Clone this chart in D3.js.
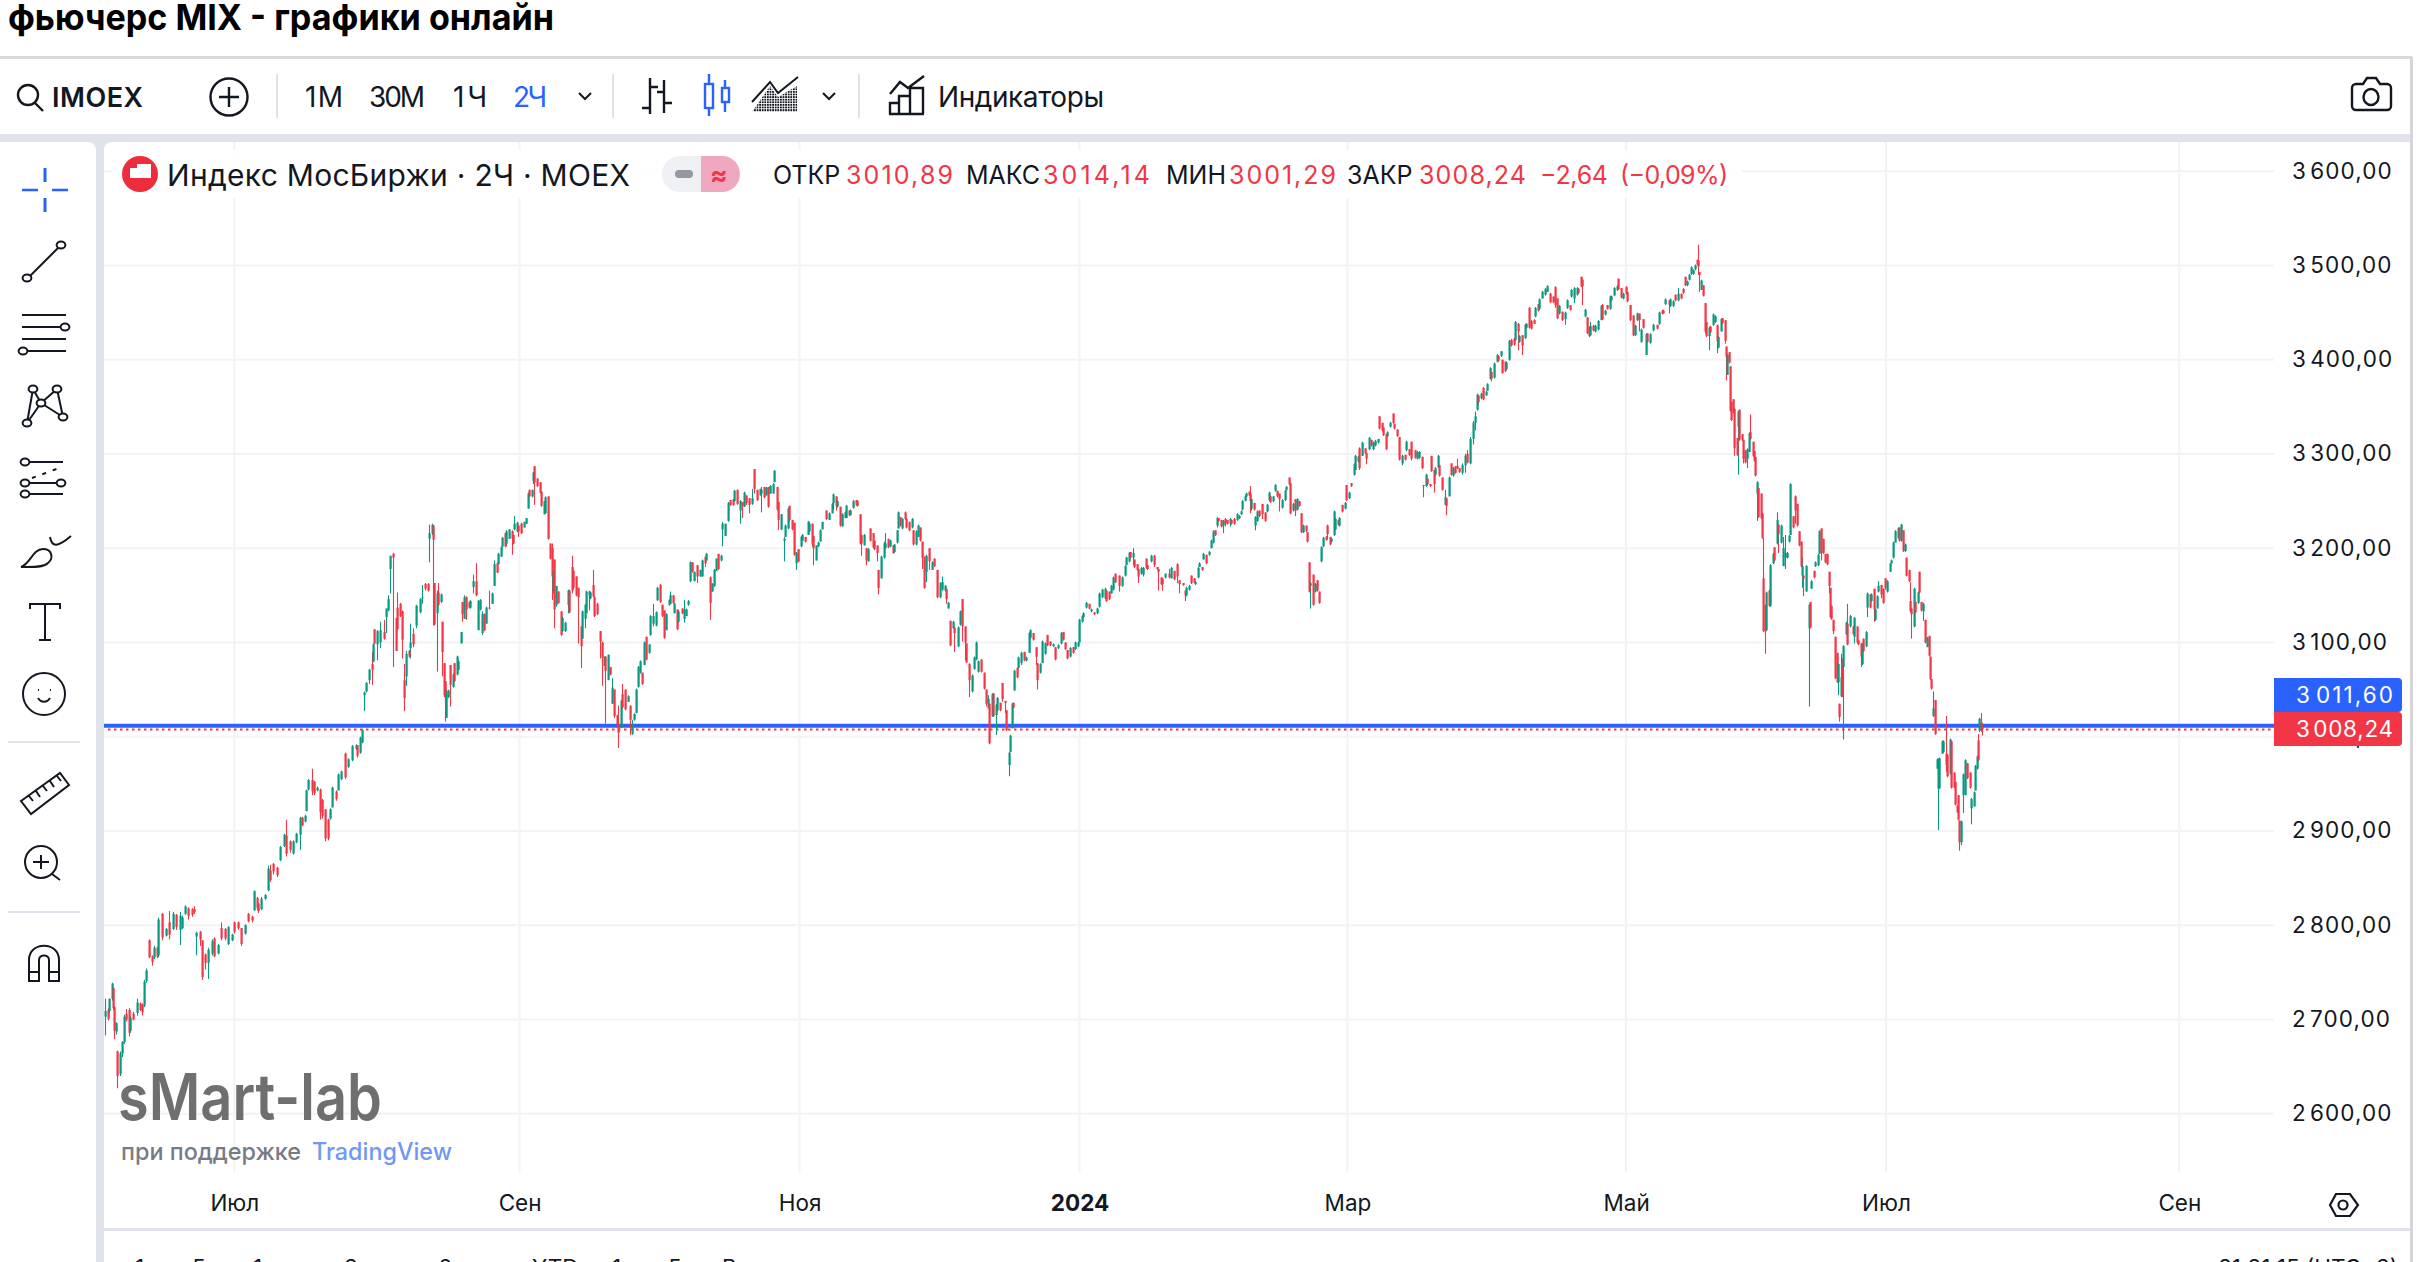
<!DOCTYPE html>
<html><head><meta charset="utf-8">
<script src="https://cdn.jsdelivr.net/npm/d3@7/dist/d3.min.js"></script>
<style>html,body{margin:0;padding:0;background:#fff;overflow:hidden}svg{display:block}text{font-family:Inter,"Noto Sans",sans-serif;fill:#131722}</style>
</head><body><div id="c"></div>
<script>
const bar=[0,2,3,5,6,7,8,9,11,13,14,16,18,19,21,24,26,28,29,31,33,35,37,39,40,43,46,48,51,53,56,58,60,62,65,67,68,71,73,75,77,80,82,85,87,90,92,95,97,100,102,105,107,110,112,114,115,117,120,122,124,126,129,131,134,136,139,141,143,146,148,150,151,152,155,157,159,161,163,165,167,169,170,173,175,177,180,182,185,188,189,191,193,
194,196,198,200,201,202,204,206,209,211,212,214,216,218,219,221,223,224,226,228,229,231,233,236,238,240,242,243,245,246,247,249,250,252,253,254,255,256,257,259,261,262,264,265,267,268,269,271,273,274,276,278,280,281,283,284,286,288,290,292,294,295,297,298,300,301,303,305,306,307,309,310,312,314,316,317,318,320,321,322,324,326,327,329,330,332,334,335,336,337,338,340,342,343,345,347,348,350,351,353,355,357,358,360,361,363,364,366,367,369,371,373,374,375,377,379,380,382,384,385,387,388,390,392,394,395,397,398,400,401,403,404,406,408,409,411,413,414,416,418,419,421,423,424,426,427,429,430,433,434,436,437,439,440,442,444,446,448,450,451,454,455,457,458,460,462,463,465,467,469,471,472,474,
476,478,479,481,483,485,487,489,491,492,494,496,497,499,501,502,504,505,507,509,510,512,513,515,517,518,520,522,523,525,527,528,530,531,533,535,536,538,541,543,545,546,548,549,551,553,555,556,558,559,561,563,564,566,567,569,571,572,574,576,577,579,580,582,584,585,587,589,591,592,594,595,596,598,600,601,603,605,606,608,610,611,613,614,616,618,620,622,624,626,628,630,631,632,634,636,637,640,641,643,645,646,648,650,652,653,655,657,659,661,662,663,665,666,668,669,671,673,675,676,678,679,680,681,682,684,685,687,689,691,693,694,696,698,699,701,703,705,707,709,711,713,715,717,719,720,722,724,726,728,730,731,733,734,736,738,740,742,744,746,748,750,751,753,755,756,758,761,763,765,766,768,769,771,772,774,775,777,779,781,
782,785,787,789,790,792,793,795,798,800,802,804,806,809,810,811,813,815,817,818,820,821,823,824,826,828,830,831,833,834,835,837,839,840,842,844,845,847,849,851,852,853,855,856,858,859,860,862,863,864,866,868,870,872,873,874,876,878,879,881,883,885,886,888,889,891,893,894,896,897,899,901,902,903,904,906,908,909,911,912,914,916,917,919,920,922,923,925,926,928,930,931,933,935,937,938,940,941,943,945,946,948,950,951,953,955,956,958,959,961,962,964,966,967,969,971,973,975,976,978,980,983,984,986,988,989,991,992,994,995,997,998,1000,1001,1003,1005,1006,1008,1010,1011,1013,1014,1016,
1018,1020,1022,1024,1026,1028,
1029,1030,1032,1034,1036,1037,1039,1040,1042,1044,1045,1047,1048,1050,1051,1053,1055,1057,1058,1060,1061,1063,1065,1066,1068,1070,1072,1073,1075,1076,1078,1080,1082,1084,1086,1088,1089,1091,1093,1095,1097,1099,1100,1102,1104,1105,1107,1108,1110,1112,1113,1114,1116,1118,1120,1122,1123,1125,1127,1129,1130,1132,1134,1135,1137,1139,1141,1142,1144,1146,1148,1149,1151,1152,1154,1156,1157,1159,1161,1164,1166,1168,1169,1170,1173,1174,1176,1178,1180,1182,1184,1185,1187,1188,1190,1191,1193,1194,1195,1196,1197,1199,1200,1201,1203,1204,1206,1208,
1209,1210,1212,1213,1215,1216,1217,1218,1219,1220,1221,1222,1224,1225,1226,1228,1229,1230,1232,1233,1234,1236,1237,1238,
1239,1240,1242,1243,1244,1245,1246,1248,1249,1251,1252,1254,1255,1257,1259,1260,1262,1263,1264,1266,1268,1269,1271,1272,1273,1274,1276,1278,1279,1280,1282,1283,1285,1286,1287,1289,1290,1292,1293,1294,1295,1296,1298,1299,1300,1301,1302,1303,1304,1306,1307,1309,1311,1312,1314,1315,1317,1318,1319,1321,1322,1324,1325,1327,1328,1329,1330,1332,1334,1335,1337,1339,1340,1341,1343,1345,1346,1347,1349,1350,1351,1353,1354,1355,1357,1358,1360,1361,1362,1364,1365,1367,1368,1369,1370,1371,1373,1374,1375,1376,1378,1379,1381,1382,1384,1385,1387,1388,1389,1390,1391,1392,1394,1395,1397,1399,1400,1402,1403,1404,1405,1406,1407,1408];
const open=[2703,2710,2709,2722,2733,2713,2687,2666,2642,2664,2676,2706,2710,2688,2706,2707,2717,2716,2715,2741,2784,2767,2766,2776,2768,2812,2789,2803,2796,2811,2795,2797,2812,2818,2817,2817,2788,2793,2784,2769,2760,2770,2786,2770,2797,2796,2780,2784,2803,2803,2797,2791,2812,2809,2816,2829,2823,2817,2828,2837,2858,2865,2861,2869,2884,2895,2889,2876,2888,2896,2914,2910,2921,2944,2954,2952,2943,2944,2933,2923,2912,2913,2925,2942,2943,2955,2982,2968,2975,2987,2991,2983,2994,
3044,3048,3060,3077,3080,3114,3098,3100,3111,3127,3134,3178,3194,3126,3137,3141,3133,3060,3064,3091,3094,3109,3118,3132,3147,3162,3162,3210,3216,3224,3163,3131,3153,3143,3122,3078,3059,3020,3042,3076,3053,3078,3066,3071,3099,3143,3125,3148,3143,3137,3159,3165,3113,3135,3110,3130,3120,3137,3141,3160,3184,3183,3191,3202,3216,3205,3210,3218,3214,3220,3218,3224,3226,3222,3226,3242,3262,3255,3271,3287,3274,3270,3260,3236,3237,3255,3205,3200,3155,3188,3140,3154,3133,3112,3112,3140,3155,3180,3176,3170,3158,3117,3104,3125,3131,3150,3147,3161,3148,3141,3112,3100,3075,3085,3060,3074,3035,3050,3023,3012,3010,3045,3050,3037,3033,3003,3018,3025,3053,3068,3068,3076,3106,3089,3108,3120,3118,3145,3161,3140,3134,3113,3140,3141,3150,3131,3135,3122,3136,3125,3128,3140,3165,3185,3165,3182,3170,3170,3191,3187,3169,3154,3160,3176,3194,3187,3220,3213,3229,3251,3252,3250,3262,
3240,3249,3244,3256,3253,3247,3284,3262,3256,3258,3265,3256,3265,3258,3258,3270,3265,3249,3220,3208,3212,3221,3245,3230,3227,3184,3199,3202,3208,3212,3214,3218,3226,3213,3187,3202,3207,3220,3240,3230,3237,3248,3255,3244,3244,3223,3232,3232,3240,3235,3243,3251,3250,3236,3214,3203,3200,3186,3221,3216,3208,3203,3177,3168,3190,3200,3210,3202,3203,3196,3206,3221,3233,3221,3238,3231,3228,3222,3219,3204,3212,3222,3207,3191,3175,3200,3177,3189,3177,3148,3156,3155,3157,3136,3123,3115,3116,3096,3119,3146,3117,3099,3077,3048,3072,3082,3069,3082,3068,3050,3030,3035,3022,3046,3023,3028,3036,3057,3038,3028,2970,2984,3009,3036,3049,3073,3073,3078,3090,3081,3089,3105,3110,3095,3078,3068,3078,3088,3108,3101,3096,3095,3094,3099,3111,3100,3092,3085,3095,3093,3096,3100,3122,3127,3137,3141,3133,3132,3131,3138,3148,3147,3155,3154,3152,3156,3173,3171,3160,3171,3182,3186,3196,3190,3188,3183,3178,3173,3172,3189,
3182,3186,3192,3180,3178,3169,3168,3169,3173,3168,3176,3183,3166,3163,3155,3150,3156,3171,3168,3162,3169,3180,3180,3188,3193,3193,3200,3206,3219,3224,3232,3230,3224,3231,3230,3226,3230,3231,3230,3232,3236,3241,3250,3255,3260,3258,3242,3248,3224,3229,3240,3247,3238,3239,3251,3255,3250,3261,3261,3258,3243,3251,3262,3275,3269,3240,3252,3241,3250,3237,3217,3224,3217,3185,3160,3172,3154,3166,3154,3186,3202,3212,3224,3212,3207,3214,3220,3230,3224,3246,3242,3267,3253,3269,3278,3283,3292,3306,3298,3306,3301,3305,3315,3305,3309,3312,3340,3333,3328,3321,3319,3329,3343,3332,3326,3318,3290,3299,3304,3305,3313,3304,3295,3296,3297,3267,3266,3274,3268,3298,3283,3278,3286,3288,3275,3246,3253,3255,3290,3277,3287,3287,3285,
3280,3288,3300,3290,3316,3333,
3347,3362,3359,3370,3362,3367,3380,3387,3381,3398,3404,3404,3400,3398,3390,3400,3421,3422,3421,3438,3419,3426,3423,3434,3455,3441,3442,3446,3459,3454,3465,3469,3472,3470,3467,3477,3465,3449,3451,3443,3455,3458,3467,3465,3469,3475,3488,3485,3446,3445,3435,3426,3436,3430,3432,3442,3458,3448,3458,3454,3463,3468,3474,3486,3476,3465,3477,3472,3458,3447,3426,3442,3449,3419,3443,3405,3428,3418,3431,3437,3438,3452,3452,3459,3463,3457,3457,3469,3463,3470,3475,3488,3479,3485,3491,3491,3496,3506,3505,3493,3474,3479,3460,3440,3425,3435,3437,3440,
3437,3413,3430,3444,3442,3414,3384,3408,3393,3355,3358,3348,3317,3329,3347,3321,3315,3304,3295,3302,3323,3313,3303,3297,
3258,3264,3258,3237,3168,3140,3113,3155,3139,3184,3201,3205,3225,3206,3181,3190,3190,3207,3214,3234,3255,3247,3218,3207,3171,3171,3154,3115,3143,3157,3176,3181,3182,3194,3221,3210,3194,3194,3175,3158,3139,3124,3106,3089,3058,3035,3043,3083,3074,3109,3120,3117,3117,3106,3117,3102,3099,3077,3104,3096,3137,3151,3144,3157,3124,3136,3154,3161,3157,3168,3154,3175,3184,3190,3206,3211,3222,3208,3219,3197,3190,3177,3144,3136,3117,3143,3142,3175,3143,3133,3124,3095,3107,3085,3061,3022,3039,2966,2945,2945,2982,2984,2982,2981,2961,2995,2962,2952,2927,2938,2911,2888,2938,2938,2972,2962,2924,2926,2943,2966,2996,3007,3015,3010.89];
const high=[2722,2712,2722,2739,2734,2714,2697,2667,2666,2677,2705,2711,2712,2704,2708,2722,2718,2717,2742,2754,2785,2768,2778,2777,2808,2813,2797,2815,2814,2812,2814,2810,2821,2819,2818,2820,2793,2794,2784,2770,2776,2785,2787,2780,2803,2797,2799,2791,2804,2804,2797,2801,2813,2810,2837,2830,2823,2830,2833,2863,2864,2866,2862,2884,2897,2912,2890,2890,2898,2915,2915,2917,2944,2955,2966,2953,2947,2945,2934,2923,2913,2924,2947,2943,2961,2964,2983,2977,2991,2992,2991,3000,3008,
3048,3058,3072,3090,3099,3114,3113,3122,3124,3136,3150,3192,3195,3126,3153,3142,3134,3077,3091,3092,3120,3115,3140,3147,3161,3163,3163,3225,3226,3224,3163,3155,3163,3152,3122,3078,3059,3050,3050,3076,3067,3078,3086,3081,3111,3143,3150,3149,3143,3145,3172,3184,3145,3146,3133,3131,3138,3155,3153,3187,3185,3195,3202,3212,3216,3219,3220,3219,3214,3234,3228,3224,3227,3228,3232,3259,3262,3262,3281,3287,3274,3270,3260,3250,3255,3255,3205,3205,3176,3188,3160,3154,3133,3127,3122,3156,3156,3192,3177,3170,3158,3117,3134,3141,3155,3155,3154,3177,3149,3142,3112,3101,3085,3085,3087,3074,3062,3050,3023,3033,3039,3056,3050,3044,3033,3018,3025,3051,3075,3081,3068,3101,3106,3098,3129,3141,3133,3159,3162,3140,3134,3131,3146,3154,3150,3142,3135,3134,3136,3145,3136,3145,3186,3185,3175,3182,3177,3188,3191,3195,3170,3163,3178,3189,3194,3193,3228,3226,3249,3251,3252,3262,3262,
3251,3249,3260,3256,3253,3263,3284,3262,3263,3265,3265,3265,3265,3267,3269,3283,3265,3249,3236,3212,3225,3243,3245,3230,3227,3196,3199,3213,3215,3212,3229,3227,3226,3213,3203,3207,3220,3228,3240,3238,3248,3258,3255,3251,3244,3237,3239,3246,3240,3241,3251,3251,3251,3236,3214,3215,3200,3200,3221,3216,3208,3203,3177,3192,3207,3216,3210,3209,3203,3204,3219,3239,3233,3232,3239,3232,3228,3232,3219,3219,3225,3222,3207,3191,3193,3200,3186,3189,3177,3164,3170,3161,3157,3143,3123,3123,3116,3117,3134,3146,3117,3099,3078,3066,3085,3101,3081,3082,3068,3050,3044,3035,3046,3046,3035,3042,3036,3057,3038,3028,2984,3002,3036,3036,3071,3073,3085,3090,3090,3085,3111,3114,3110,3095,3078,3078,3102,3100,3108,3101,3099,3095,3098,3111,3111,3100,3092,3095,3095,3101,3101,3125,3129,3132,3143,3141,3136,3132,3137,3153,3157,3158,3155,3154,3161,3170,3173,3171,3170,3182,3191,3196,3196,3200,3188,3183,3178,3180,3180,3189,
3182,3193,3193,3180,3178,3169,3168,3173,3178,3180,3176,3184,3166,3163,3155,3159,3161,3171,3168,3165,3180,3185,3180,3195,3193,3197,3209,3219,3219,3233,3232,3230,3230,3232,3230,3232,3230,3232,3237,3235,3240,3251,3256,3259,3260,3266,3253,3248,3234,3240,3240,3247,3238,3247,3260,3256,3255,3268,3261,3258,3252,3262,3266,3275,3269,3248,3252,3253,3250,3237,3225,3224,3217,3185,3164,3172,3163,3166,3154,3202,3212,3213,3225,3212,3211,3240,3232,3230,3233,3246,3249,3267,3260,3269,3290,3299,3298,3307,3313,3306,3301,3318,3315,3313,3315,3316,3340,3333,3328,3321,3324,3334,3343,3332,3326,3318,3299,3299,3314,3305,3313,3304,3303,3303,3297,3267,3279,3274,3268,3298,3283,3286,3299,3288,3275,3262,3253,3276,3290,3286,3287,3295,3285,
3290,3300,3304,3318,3335,3345,
3364,3362,3365,3371,3367,3375,3392,3387,3397,3406,3404,3409,3400,3398,3398,3421,3422,3423,3441,3439,3426,3426,3438,3439,3456,3442,3443,3456,3459,3465,3473,3476,3479,3471,3467,3478,3465,3458,3451,3451,3464,3458,3475,3477,3477,3476,3488,3485,3454,3445,3435,3440,3437,3437,3442,3458,3459,3453,3458,3468,3468,3477,3479,3486,3476,3471,3478,3472,3458,3447,3437,3450,3449,3433,3443,3428,3428,3428,3438,3437,3451,3453,3453,3465,3463,3465,3463,3469,3476,3470,3476,3488,3484,3491,3499,3496,3501,3506,3522,3493,3485,3479,3460,3440,3435,3436,3449,3447,
3437,3425,3444,3444,3442,3414,3406,3408,3393,3355,3358,3348,3317,3346,3347,3321,3315,3304,3306,3323,3342,3313,3303,3297,
3271,3264,3258,3237,3211,3140,3154,3156,3183,3195,3201,3238,3225,3225,3212,3214,3196,3214,3269,3234,3256,3247,3218,3207,3190,3171,3182,3141,3143,3166,3176,3186,3194,3219,3221,3210,3194,3194,3175,3158,3139,3124,3106,3089,3078,3035,3088,3083,3097,3122,3141,3129,3117,3127,3117,3102,3099,3099,3104,3112,3153,3151,3152,3157,3136,3150,3165,3161,3157,3168,3166,3184,3188,3207,3219,3222,3222,3226,3219,3205,3190,3177,3164,3136,3158,3143,3154,3175,3143,3142,3124,3106,3107,3085,3061,3048,3039,2977,2977,2978,2996,2996,3022,2981,2998,2995,2962,2952,2927,2938,2911,2911,2961,2976,2972,2962,2935,2942,2970,2980,3003,3020,3025,3014.14];
const low=[2683,2699,2706,2720,2710,2679,2684,2627,2640,2660,2674,2698,2682,2686,2699,2704,2709,2704,2713,2739,2765,2757,2764,2765,2766,2784,2788,2785,2795,2795,2779,2796,2811,2806,2809,2812,2768,2778,2742,2753,2743,2768,2766,2769,2784,2784,2779,2783,2791,2795,2778,2790,2803,2803,2815,2816,2813,2816,2827,2836,2846,2854,2851,2868,2883,2873,2877,2875,2887,2880,2905,2909,2921,2943,2938,2938,2942,2912,2913,2889,2890,2912,2925,2932,2943,2954,2955,2967,2974,2986,2978,2982,2993,
3027,3047,3056,3055,3079,3098,3081,3094,3103,3110,3133,3152,3074,3091,3113,3127,3083,3027,3054,3084,3083,3095,3115,3131,3141,3155,3154,3185,3214,3118,3118,3069,3138,3142,3064,3042,3016,3020,3041,3032,3052,3058,3065,3071,3099,3122,3125,3124,3136,3136,3152,3149,3113,3134,3108,3112,3120,3135,3141,3160,3174,3183,3191,3201,3201,3202,3210,3193,3204,3219,3217,3212,3215,3222,3226,3242,3254,3254,3268,3246,3265,3258,3244,3236,3237,3209,3188,3145,3152,3115,3138,3141,3107,3111,3111,3131,3131,3152,3157,3149,3099,3073,3104,3115,3131,3134,3146,3148,3127,3129,3083,3054,3075,3014,3060,3065,3035,3020,3011,2988,3009,3030,3028,3037,3002,3002,3017,3025,3052,3067,3055,3076,3081,3088,3107,3117,3117,3144,3142,3127,3104,3113,3139,3141,3141,3131,3113,3121,3130,3121,3128,3139,3164,3174,3165,3163,3170,3170,3180,3187,3124,3154,3159,3176,3177,3186,3202,3213,3228,3245,3245,3249,3246,
3226,3232,3244,3246,3237,3246,3258,3250,3256,3238,3253,3256,3243,3258,3258,3270,3240,3219,3219,3186,3212,3220,3228,3219,3192,3177,3185,3201,3208,3206,3214,3217,3202,3182,3187,3201,3207,3220,3230,3230,3237,3241,3240,3243,3223,3223,3232,3232,3234,3235,3242,3245,3244,3204,3192,3203,3182,3186,3207,3200,3198,3186,3151,3168,3189,3200,3200,3201,3194,3195,3205,3221,3223,3220,3230,3221,3218,3221,3203,3203,3212,3207,3178,3157,3164,3177,3177,3180,3147,3147,3155,3154,3141,3136,3096,3115,3090,3095,3118,3101,3081,3078,3042,3047,3071,3081,3068,3068,3050,3032,3030,2992,3021,3021,3002,3027,3027,3037,3025,3006,2958,2984,3009,3030,3049,3062,3072,3076,3080,3080,3089,3104,3102,3076,3050,3067,3078,3087,3096,3096,3095,3081,3093,3098,3102,3092,3082,3084,3088,3092,3095,3100,3121,3126,3136,3135,3132,3129,3130,3137,3147,3146,3143,3145,3152,3155,3163,3154,3159,3170,3182,3185,3189,3182,3179,3176,3163,3172,3170,3178,
3177,3185,3180,3177,3155,3161,3155,3168,3168,3168,3166,3163,3152,3160,3144,3149,3155,3162,3163,3161,3168,3180,3176,3188,3183,3192,3200,3205,3213,3222,3228,3222,3216,3223,3225,3223,3225,3225,3229,3231,3235,3240,3250,3254,3255,3237,3240,3240,3219,3228,3233,3231,3228,3238,3250,3248,3249,3260,3254,3239,3242,3250,3261,3267,3236,3239,3234,3240,3244,3216,3216,3217,3206,3153,3136,3139,3153,3154,3141,3185,3201,3208,3209,3203,3206,3213,3219,3224,3223,3238,3241,3250,3252,3265,3277,3283,3291,3283,3298,3300,3289,3304,3308,3304,3308,3311,3326,3324,3319,3304,3318,3328,3332,3326,3318,3293,3288,3293,3303,3298,3293,3295,3294,3295,3284,3254,3265,3267,3265,3281,3259,3277,3285,3276,3261,3246,3235,3255,3277,3276,3279,3284,3280,
3278,3280,3290,3289,3310,3325,
3346,3352,3358,3357,3362,3367,3379,3377,3380,3397,3398,3403,3385,3387,3389,3399,3414,3415,3420,3410,3418,3405,3422,3433,3433,3432,3438,3445,3451,3453,3465,3468,3472,3460,3460,3455,3443,3448,3441,3437,3454,3452,3466,3460,3468,3470,3477,3458,3445,3427,3424,3425,3430,3429,3431,3442,3442,3447,3453,3453,3463,3468,3473,3474,3465,3464,3469,3461,3441,3425,3425,3441,3430,3418,3433,3405,3418,3417,3430,3432,3437,3448,3449,3458,3449,3456,3456,3462,3462,3464,3470,3478,3478,3484,3490,3490,3495,3500,3490,3472,3474,3467,3428,3424,3410,3428,3436,3439,
3407,3412,3430,3438,3417,3378,3384,3396,3345,3335,3343,3298,3298,3278,3314,3314,3290,3290,3285,3302,3315,3297,3292,3276,
3229,3232,3231,3210,3111,3088,3112,3138,3138,3183,3186,3204,3195,3205,3181,3178,3189,3206,3214,3221,3226,3223,3202,3180,3158,3149,3154,3032,3115,3157,3168,3180,3181,3194,3187,3194,3184,3182,3152,3126,3124,3109,3061,3057,3044,3016,3042,3042,2997,3108,3097,3116,3108,3099,3099,3097,3074,3076,3090,3095,3127,3136,3143,3122,3123,3136,3153,3147,3141,3156,3153,3175,3184,3189,3206,3210,3207,3207,3196,3196,3170,3164,3132,3104,3116,3131,3141,3152,3133,3123,3099,3095,3085,3060,3050,3021,3002,2966,2901,2945,2982,2983,2963,2957,2960,2945,2945,2927,2919,2911,2879,2885,2919,2938,2955,2945,2907,2926,2943,2965,2974,3005,3005,3001.29];
const close=[2709,2701,2722,2738,2712,2688,2696,2640,2664,2676,2703,2700,2686,2702,2700,2718,2710,2708,2740,2752,2766,2761,2776,2767,2806,2787,2796,2790,2812,2798,2810,2808,2820,2810,2811,2814,2792,2785,2745,2760,2774,2783,2767,2779,2786,2786,2798,2790,2793,2797,2780,2800,2804,2805,2836,2818,2815,2828,2832,2860,2848,2857,2853,2883,2896,2876,2880,2889,2897,2914,2906,2916,2943,2954,2942,2940,2946,2920,2916,2892,2892,2923,2946,2934,2960,2963,2957,2976,2990,2991,2980,2999,3007,
3047,3057,3071,3071,3098,3099,3112,3113,3104,3136,3146,3192,3190,3091,3114,3128,3103,3041,3088,3085,3100,3098,3139,3146,3148,3157,3155,3216,3225,3209,3119,3152,3140,3151,3090,3044,3042,3048,3049,3055,3066,3059,3085,3080,3111,3130,3148,3135,3137,3144,3165,3150,3144,3145,3130,3113,3137,3136,3152,3183,3174,3194,3201,3211,3202,3218,3220,3210,3205,3226,3227,3218,3216,3228,3232,3258,3255,3262,3280,3270,3266,3259,3245,3250,3254,3210,3189,3170,3176,3135,3160,3142,3108,3126,3121,3155,3132,3155,3158,3150,3148,3096,3133,3140,3154,3154,3153,3149,3128,3130,3101,3084,3085,3070,3087,3066,3052,3022,3012,3004,3038,3031,3029,3043,3018,3012,3024,3050,3074,3080,3056,3100,3082,3098,3128,3128,3132,3158,3143,3128,3105,3130,3145,3150,3142,3141,3114,3133,3131,3135,3135,3144,3185,3175,3175,3170,3177,3187,3184,3194,3142,3162,3177,3189,3178,3192,3226,3226,3248,3246,3246,3261,3247,
3250,3245,3259,3248,3246,3253,3263,3251,3263,3262,3254,3264,3244,3266,3268,3282,3241,3230,3236,3210,3224,3242,3230,3220,3193,3195,3186,3212,3214,3207,3228,3226,3205,3200,3203,3206,3219,3228,3231,3237,3247,3257,3245,3250,3224,3236,3238,3245,3235,3240,3250,3246,3245,3205,3205,3214,3187,3199,3208,3201,3199,3195,3158,3191,3205,3205,3201,3208,3195,3204,3219,3238,3224,3231,3231,3222,3219,3231,3204,3218,3224,3208,3190,3158,3192,3186,3185,3181,3148,3163,3164,3160,3146,3142,3097,3122,3110,3116,3133,3117,3100,3079,3060,3065,3084,3100,3080,3069,3051,3035,3040,2993,3045,3022,3034,3041,3028,3040,3036,3007,2983,3001,3035,3031,3070,3063,3084,3089,3081,3084,3110,3113,3103,3085,3060,3077,3101,3099,3097,3097,3098,3082,3097,3110,3103,3093,3083,3094,3089,3100,3100,3124,3128,3131,3142,3136,3135,3130,3136,3152,3156,3157,3144,3146,3160,3169,3164,3160,3169,3181,3190,3195,3190,3195,3180,3177,3170,3179,3179,3179,
3178,3192,3182,3178,3175,3162,3162,3173,3169,3179,3167,3170,3162,3161,3150,3158,3160,3163,3164,3164,3179,3184,3177,3194,3184,3196,3208,3218,3214,3232,3229,3223,3229,3226,3226,3231,3226,3226,3236,3234,3239,3250,3255,3258,3256,3250,3252,3241,3233,3239,3234,3236,3229,3246,3259,3249,3255,3267,3255,3252,3251,3261,3265,3268,3237,3247,3240,3252,3245,3217,3224,3218,3207,3154,3163,3140,3162,3155,3142,3201,3211,3209,3215,3204,3210,3239,3231,3225,3232,3239,3248,3251,3259,3266,3289,3298,3297,3285,3312,3301,3295,3317,3309,3312,3314,3316,3327,3325,3320,3305,3323,3333,3333,3327,3319,3294,3298,3294,3313,3299,3295,3296,3302,3302,3285,3266,3278,3268,3266,3282,3268,3285,3298,3277,3262,3254,3245,3275,3278,3285,3280,3285,3281,
3288,3298,3291,3316,3333,3340,
3363,3355,3364,3358,3366,3374,3391,3380,3396,3405,3399,3409,3386,3388,3397,3420,3415,3416,3440,3430,3425,3415,3437,3438,3434,3433,3438,3455,3452,3464,3472,3475,3478,3461,3461,3458,3444,3457,3442,3450,3463,3453,3474,3476,3476,3471,3478,3478,3453,3428,3425,3436,3431,3436,3441,3457,3443,3452,3454,3467,3467,3476,3478,3475,3466,3470,3470,3462,3442,3426,3436,3449,3442,3432,3434,3427,3419,3427,3437,3433,3450,3449,3449,3464,3458,3464,3462,3463,3470,3465,3471,3479,3483,3490,3498,3495,3500,3501,3499,3490,3484,3468,3430,3425,3434,3429,3448,3446,
3420,3424,3443,3439,3420,3403,3405,3397,3346,3336,3345,3306,3299,3345,3315,3315,3295,3291,3305,3322,3316,3298,3293,3277,
3270,3233,3232,3211,3112,3112,3153,3139,3182,3194,3187,3230,3215,3224,3200,3195,3195,3213,3268,3222,3240,3224,3203,3181,3181,3168,3181,3140,3116,3165,3169,3185,3193,3218,3195,3195,3185,3183,3160,3127,3125,3112,3062,3058,3077,3021,3063,3043,3096,3121,3098,3128,3109,3126,3100,3098,3085,3098,3091,3111,3152,3137,3151,3135,3135,3149,3160,3151,3142,3158,3165,3184,3187,3206,3218,3221,3208,3225,3197,3204,3171,3165,3133,3130,3157,3132,3153,3153,3134,3141,3100,3105,3086,3061,3051,3030,3003,2976,2976,2977,2995,2995,2970,2958,2997,2946,2946,2928,2920,2912,2888,2910,2960,2975,2956,2946,2934,2941,2969,2979,2975,3019,3012,3008.24];

const yTicks=[3600,3500,3400,3300,3200,3100,3000,2900,2800,2700,2600];
const monthBars=[97,311,521,731,932,1141,1336,1556];
const monthLabels=["Июл","Сен","Ноя","2024","Мар","Май","Июл","Сен"];
const legendPairs=[["ОТКР","3010,89",773,846],["МАКС","3014,14",966,1043],["МИН","3001,29",1166,1229],["ЗАКР","3008,24",1347,1419]];
const bidPrice=3011.60, lastPrice=3008.24;
const rangeLabels=["1д","5д","1м","3м","6м","YTD","1г","5л","Все"];
const intervals=["1М","30М","1Ч","2Ч"];

const GREEN="#089981",RED="#F23645",BLUE="#2962FF",GRID="#f2f3f5",BAND="#e0e3eb",INK="#131722";
const svg=d3.select("#c").append("svg").attr("width",2420).attr("height",1262);
const y=d3.scaleLinear().domain([2600,3600]).range([1113.7,171.2]);
const x=d3.scaleLinear().domain([0,1408]).range([105,1982]);
const fmt=d3.formatLocale({decimal:",",thousands:"\u200A",grouping:[3],currency:["",""]}).format(",.2f");

// frame
svg.append("rect").attr("x",0).attr("y",134).attr("width",2410).attr("height",1128).attr("fill",BAND);
svg.append("path").attr("fill","#fff").attr("d","M0,142H88a8,8 0 0 1 8,8V1262H0Z");
svg.append("path").attr("fill","#fff").attr("d","M104,150a8,8 0 0 1 8,-8H2410V1262H104Z");
svg.append("rect").attr("x",0).attr("y",56).attr("width",2412).attr("height",3).attr("fill","#d9d9d9");
svg.append("rect").attr("x",2410).attr("y",57).attr("width",3).attr("height",1205).attr("fill","#d6d6da");

// grid
const gg=svg.append("g");
gg.selectAll("line.h").data(yTicks).join("line").attr("x1",104).attr("x2",2274).attr("y1",d=>y(d)).attr("y2",d=>y(d)).attr("stroke",GRID).attr("stroke-width",2);
gg.selectAll("line.v").data(monthBars).join("line").attr("x1",d=>x(d)).attr("x2",d=>x(d)).attr("y1",142).attr("y2",1172).attr("stroke",GRID).attr("stroke-width",2);

// price lines
svg.append("line").attr("x1",104).attr("x2",2274).attr("y1",y(bidPrice)).attr("y2",y(bidPrice)).attr("stroke",BLUE).attr("stroke-width",4);
svg.append("line").attr("x1",108).attr("x2",2274).attr("y1",y(lastPrice)+.6).attr("y2",y(lastPrice)+.6).attr("stroke",RED).attr("stroke-width",2).attr("stroke-dasharray","2.5 3.5");

// candles
const candles=bar.map((b,i)=>({b,o:open[i],h:high[i],l:low[i],c:close[i]}));
const cg=svg.append("g");
cg.selectAll("line").data(candles).join("line").attr("x1",d=>Math.round(x(d.b))+.5).attr("x2",d=>Math.round(x(d.b))+.5).attr("y1",d=>y(d.h)).attr("y2",d=>y(d.l)).attr("stroke",d=>d.c>=d.o?GREEN:RED).attr("stroke-width",1.1);
cg.selectAll("rect").data(candles).join("rect").attr("x",d=>Math.round(x(d.b))-.5).attr("width",2.2).attr("y",d=>y(Math.max(d.o,d.c))).attr("height",d=>Math.max(1,Math.abs(y(d.o)-y(d.c)))).attr("fill",d=>d.c>=d.o?GREEN:RED);

// y axis
const ya=svg.append("g").attr("transform","translate(2274,0)").call(d3.axisRight(y).tickValues(yTicks).tickSize(0).tickPadding(18).tickFormat(fmt));
ya.select(".domain").remove();
ya.selectAll("text").attr("font-size",22.5).attr("dy","0.22em").attr("font-family","Inter").style("letter-spacing","1.1px");
ya.selectAll(".tick text").attr("transform","translate(0,2)");

// price badges
[[bidPrice,BLUE,678],[lastPrice,RED,712]].forEach(([v,col,t])=>{
  svg.append("path").attr("fill",col).attr("d",`M2274,${t}H2398a4,4 0 0 1 4,4V${t+30}a4,4 0 0 1 -4,4H2274Z`);
  svg.append("text").attr("x",2296).attr("y",t+25).attr("font-size",22.5).attr("textLength",97).style("fill","#fff").text(d3.format(".2f")(v).replace(".",",").replace(/^(\d)/,"$1\u200A"));
});

// x axis
const xa=svg.append("g").attr("transform","translate(0,1172)").call(d3.axisBottom(x).tickValues(monthBars).tickSize(0).tickPadding(23).tickFormat((d,i)=>monthLabels[i]));
xa.select(".domain").remove();
xa.selectAll("text").attr("font-size",22.5).attr("font-family","Inter").attr("font-weight",(d,i)=>monthLabels[i]==="2024"?700:400).attr("dy","0.71em");

svg.append("rect").attr("x",104).attr("y",1228).attr("width",2306).attr("height",3).attr("fill",BAND);
// settings hex
svg.append("path").attr("fill","none").attr("stroke",INK).attr("stroke-width",2.2).attr("d","M2330,1205l6,-11h14l8,11l-8,11h-14Z");
svg.append("circle").attr("cx",2343).attr("cy",1205).attr("r",4.5).attr("fill","none").attr("stroke",INK).attr("stroke-width",2.2);

// bottom range row (cropped by the window, as in the reference)
const rx=[135,192,253,344,438,532,612,668,722];
rangeLabels.forEach((t,i)=>svg.append("text").attr("x",rx[i]).attr("y",1276).attr("font-size",22.5).text(t));
svg.append("text").attr("x",2398).attr("y",1276).attr("text-anchor","end").attr("font-size",22.5).text("21:21:15 (UTC+3)");

// title
svg.append("text").attr("x",8).attr("y",30).attr("font-size",36).attr("font-weight",700).attr("font-family","Liberation Sans").style("fill","#000").attr("textLength",546).attr("lengthAdjust","spacingAndGlyphs").text("фьючерс MIX - графики онлайн");

// toolbar
const tb=svg.append("g").attr("fill","none").attr("stroke",INK).attr("stroke-width",2.4);
tb.append("circle").attr("cx",28).attr("cy",95).attr("r",10);
tb.append("path").attr("d","M35,103l8,8");
svg.append("text").attr("x",52).attr("y",107).attr("font-size",27).attr("font-weight",600).attr("textLength",91).text("IMOEX");
tb.append("circle").attr("cx",229).attr("cy",97).attr("r",18.5);
tb.append("path").attr("d","M229,87v20M219,97h20");
[277,613,859].forEach(v=>svg.append("rect").attr("x",v-1).attr("y",74).attr("width",2).attr("height",44).attr("fill",BAND));
const ix=[305,369,453,513],iw=[38,56,34,34];
intervals.forEach((t,i)=>svg.append("text").attr("x",ix[i]).attr("y",107).attr("font-size",28).attr("textLength",iw[i]).style("fill",t==="2Ч"?BLUE:INK).text(t));
tb.append("path").attr("stroke-width",2).attr("d","M579,93l6,6l6,-6M823,93l6,6l6,-6");
// bar icon
tb.append("path").attr("stroke-width",2.4).attr("d","M650,78V114M642,108H650M650,87H658M664,80V113M664,92H657M664,103H672");
// candle icon
const bi=svg.append("g").attr("fill","none").attr("stroke",BLUE).attr("stroke-width",2.4);
bi.append("rect").attr("x",705).attr("y",84).attr("width",8).attr("height",24);
bi.append("path").attr("d","M709,74V84M709,108V116M725,80V88M725,102V112");
bi.append("rect").attr("x",722).attr("y",88).attr("width",7).attr("height",14);
// area icon
const dp=svg.append("defs").append("pattern").attr("id","dots").attr("width",2.6).attr("height",2.6).attr("patternUnits","userSpaceOnUse");
dp.append("rect").attr("width",1.8).attr("height",1.8).attr("fill",INK);
svg.append("path").attr("fill","url(#dots)").attr("d","M752,112L770,86L778,97L797,86V112Z");
tb.append("path").attr("stroke-width",2).attr("d","M752,102L770,82L778,93L798,77");
// indicators icon
tb.append("path").attr("stroke-width",2.4).attr("d","M890,94L900,82L908,88L924,76M890,114V103H899V114M899,114V96H910V114M910,114V88H923V114M889,114H924");
svg.append("text").attr("x",938).attr("y",107).attr("font-size",28).attr("textLength",166).text("Индикаторы");
// camera
tb.append("path").attr("d","M2356,84h7l4,-6h9l4,6h7a4,4 0 0 1 4,4v18a4,4 0 0 1 -4,4h-31a4,4 0 0 1 -4,-4v-18a4,4 0 0 1 4,-4Z");
tb.append("ellipse").attr("cx",2371).attr("cy",97).attr("rx",7.5).attr("ry",8);

// left tools
svg.append("path").attr("fill","none").attr("stroke",BLUE).attr("stroke-width",2.4).attr("d","M22,190H38M52,190H68");
svg.append("path").attr("fill","none").attr("stroke",BLUE).attr("stroke-width",3).attr("d","M45,168V182M45,198V212");
const lt=svg.append("g").attr("fill","none").attr("stroke",INK).attr("stroke-width",2);
const ring=(cx,cy,r=4.4)=>lt.append("ellipse").attr("cx",cx).attr("cy",cy).attr("rx",r).attr("ry",r*.8).attr("fill","#fff");
lt.append("path").attr("d","M29,277L59,247"); ring(61,245); ring(27,278);
lt.append("path").attr("d","M22,315H66M22,327H60M22,339H66M27,351H66"); ring(65,327); ring(23,351);
lt.append("path").attr("d","M33,389L27,423M33,389L41,403M41,403L27,423M41,403L57,389M41,403L63,417M57,389L63,417"); ring(33,389); ring(57,389); ring(41,403); ring(27,423); ring(63,417);
lt.append("path").attr("d","M29,462H63M29,483H57M29,494H63"); lt.append("path").attr("stroke-dasharray","4 7").attr("d","M32,478L62,467"); ring(25,462); ring(25,483); ring(61,483); ring(25,494);
lt.append("path").attr("d","M21,567C30,564 33,549 43,549C52,549 54,558 48,563C43,568 30,567 21,567ZM50,537C52,548 58,547 71,536");
lt.append("path").attr("d","M30,609V604H60V609M45,604V640M39,640H51");
lt.append("circle").attr("cx",44).attr("cy",694).attr("r",21);
lt.append("path").attr("d","M38,698C41,703 47,703 50,698M38,690h1M50,690h1");
svg.append("rect").attr("x",8).attr("y",741).attr("width",72).attr("height",2).attr("fill",BAND);
lt.append("path").attr("d","M21,801L60,773L69,785L31,814Z M29,796l4,5M36,791l4,6M43,786l4,5M50,781l4,6M57,776l4,5");
lt.append("circle").attr("cx",41).attr("cy",862).attr("r",16);
lt.append("path").attr("d","M33,862H49M41,855V869M52,874L60,880");
svg.append("rect").attr("x",8).attr("y",911).attr("width",72).attr("height",2).attr("fill",BAND);
lt.append("path").attr("d","M29,981V960C29,941 59,941 59,960V981H49V960C49,954 39,954 39,960V981ZM29,972H39M49,972H59");

// legend
svg.append("rect").attr("x",112).attr("y",150).attr("width",1630).attr("height",48).attr("fill","#fff").attr("opacity",.88);
svg.append("circle").attr("cx",140).attr("cy",174).attr("r",18).attr("fill","#ee2d3c");
svg.append("path").attr("fill","#fff").attr("d","M130,168h7v-4h14v14h-21Z");
svg.append("text").attr("x",167).attr("y",186).attr("font-size",30).attr("textLength",463).text("Индекс МосБиржи · 2Ч · MOEX");
svg.append("path").attr("fill","#eff0f3").attr("d","M701,156V192H680a18,18 0 0 1 0,-36Z");
svg.append("path").attr("fill","#f0a8c0").attr("d","M701,156H722a18,18 0 0 1 0,36H701Z");
svg.append("rect").attr("x",675).attr("y",170).attr("width",18).attr("height",8).attr("rx",4).attr("fill","#9598a1");
svg.append("text").attr("x",710).attr("y",184).attr("font-size",26).attr("font-weight",700).style("fill",RED).text("≈");
legendPairs.forEach(([k,v,kx,vx])=>{
  svg.append("text").attr("x",kx).attr("y",184).attr("font-size",25).text(k);
  svg.append("text").attr("x",vx).attr("y",184).attr("font-size",25).attr("textLength",107).style("fill",RED).text(v);
});
svg.append("text").attr("x",1540).attr("y",184).attr("font-size",25).attr("textLength",68).style("fill",RED).text("−2,64");
svg.append("text").attr("x",1620).attr("y",184).attr("font-size",25).attr("textLength",108).style("fill",RED).text("(−0,09%)");

// watermark
svg.append("text").attr("x",118).attr("y",1120).attr("font-size",64).attr("font-weight",600).attr("font-family","Noto Sans").attr("textLength",264).attr("lengthAdjust","spacingAndGlyphs").style("fill","#6f6f6f").text("sMart-lab");
svg.append("text").attr("x",121).attr("y",1160).attr("font-size",24).attr("font-weight",500).attr("font-family","Noto Sans").attr("textLength",180).attr("lengthAdjust","spacingAndGlyphs").style("fill","#787b86").text("при поддержке");
svg.append("text").attr("x",312).attr("y",1160).attr("font-size",24).attr("font-weight",500).attr("font-family","Noto Sans").attr("textLength",140).attr("lengthAdjust","spacingAndGlyphs").style("fill","#6f98f5").text("TradingView");
</script></body></html>
